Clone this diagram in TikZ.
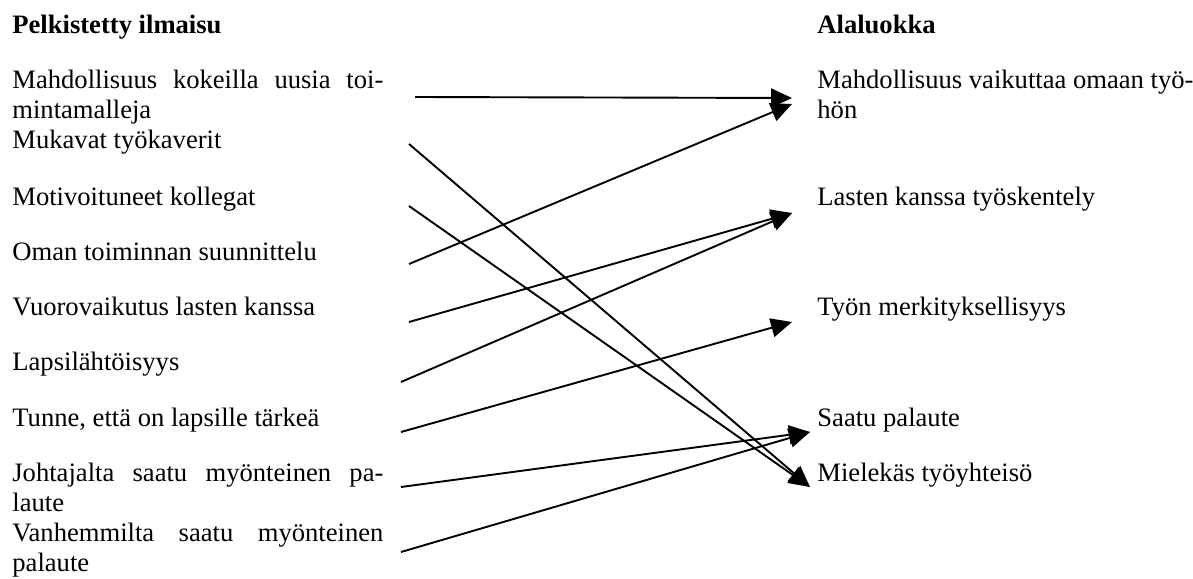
\documentclass[tikz,border=0pt]{standalone}
\usepackage{fontspec}
\setmainfont{Liberation Serif}
\usetikzlibrary{arrows.meta}
\begin{document}
\begin{tikzpicture}[x=0.5pt,y=-0.5pt,
  txt/.style={anchor=base west, inner sep=0pt, align=left,
    font=\fontsize{13.3}{15}\selectfont},
  head/.style={txt, font=\fontsize{13.3}{15}\selectfont\bfseries},
  conn/.style={line width=0.95pt, -{Triangle[length=10.5pt,width=9.5pt]}}]
\useasboundingbox (0,0) rectangle (1193,578);

% left column: reduced expressions (two-line nodes sit on their last baseline)
\node[head] (hl) at (12,33) {Pelkistetty ilmaisu};
\node[txt] (l1) at (12,118) {\hbox to 185.5pt{Mahdollisuus\hfill kokeilla\hfill uusia\hfill toi-}\\mintamalleja};
\node[txt] (l2) at (12,148) {Mukavat työkaverit};
\node[txt] (l3) at (12,205) {Motivoituneet kollegat};
\node[txt] (l4) at (12,260) {Oman toiminnan suunnittelu};
\node[txt] (l5) at (12,315) {Vuorovaikutus lasten kanssa};
\node[txt] (l6) at (12,370) {Lapsilähtöisyys};
\node[txt] (l7) at (12,426) {Tunne, että on lapsille tärkeä};
\node[txt] (l8) at (12,511) {\hbox to 185.5pt{Johtajalta\hfill saatu\hfill myönteinen\hfill pa-}\\laute};
\node[txt] (l9) at (12,571) {\hbox to 185.5pt{Vanhemmilta\hfill saatu\hfill myönteinen}\\palaute};

% right column: subcategories
\node[head] (hr) at (817,33) {Alaluokka};
\node[txt] (r1) at (817,118) {Mahdollisuus vaikuttaa omaan työ-\\hön};
\node[txt] (r2) at (817,205) {Lasten kanssa työskentely};
\node[txt] (r3) at (817,315) {Työn merkityksellisyys};
\node[txt] (r4) at (817,426) {Saatu palaute};
\node[txt] (r5) at (817,481) {Mielekäs työyhteisö};

% connector start points
\coordinate (s1) at (415,97);
\coordinate (s2) at (409,144);
\coordinate (s3) at (409,206);
\coordinate (s4) at (409,264);
\coordinate (s5) at (409,322);
\coordinate (s6) at (401,382);
\coordinate (s7) at (401,432);
\coordinate (s8) at (401,487);
\coordinate (s9) at (401,552);

% arrow tips beside the subcategories
\coordinate (t1a) at (792,98);
\coordinate (t1b) at (792,104);
\coordinate (t2) at (792,213);
\coordinate (t3) at (792,322);
\coordinate (t4) at (810,432);
\coordinate (t5) at (810,487);

\draw[conn] (s1) -- (t1a);
\draw[conn] (s4) -- (t1b);
\draw[conn] (s5) -- (t2);
\draw[conn] (s6) -- (t2);
\draw[conn] (s7) -- (t3);
\draw[conn] (s8) -- (t4);
\draw[conn] (s9) -- (t4);
\draw[conn] (s2) -- (t5);
\draw[conn] (s3) -- (t5);
\end{tikzpicture}
\end{document}
